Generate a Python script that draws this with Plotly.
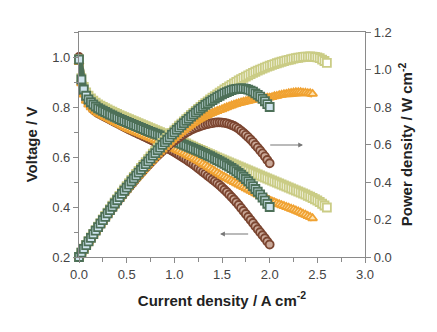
import numpy as np
import plotly.graph_objects as go

# Current density steps (A cm^-2) for each cell
step = 0.025
current_brown = np.round(np.arange(0, 81) * step, 3)
current_orange = np.round(np.arange(0, 99) * step, 3)
current_yellow = np.round(np.arange(0, 105) * step, 3)
current_green = np.round(np.arange(0, 81) * step, 3)

# Cell voltage (V)
voltage_brown = [
    1.00, 0.90, 0.855, 0.83, 0.815, 0.802, 0.79, 0.782, 0.775, 0.77,
    0.765, 0.76, 0.755, 0.75, 0.745, 0.74, 0.735, 0.73, 0.725, 0.72,
    0.715, 0.71, 0.706, 0.701, 0.697, 0.692, 0.688, 0.683, 0.679, 0.674,
    0.67, 0.665, 0.661, 0.656, 0.651, 0.646, 0.641, 0.636, 0.631, 0.626,
    0.62, 0.614, 0.608, 0.602, 0.596, 0.59, 0.583, 0.577, 0.57, 0.563,
    0.555, 0.548, 0.54, 0.533, 0.525, 0.518, 0.51, 0.503, 0.495, 0.487,
    0.478, 0.469, 0.46, 0.45, 0.44, 0.43, 0.419, 0.408, 0.396, 0.384,
    0.372, 0.36, 0.348, 0.336, 0.323, 0.311, 0.299, 0.287, 0.275, 0.262,
    0.25]
voltage_orange = [
    0.98, 0.895, 0.85, 0.825, 0.81, 0.799, 0.79, 0.782, 0.775, 0.77,
    0.765, 0.76, 0.755, 0.75, 0.745, 0.74, 0.735, 0.73, 0.725, 0.72,
    0.715, 0.711, 0.707, 0.703, 0.699, 0.695, 0.691, 0.687, 0.683, 0.679,
    0.675, 0.671, 0.667, 0.663, 0.659, 0.655, 0.651, 0.647, 0.643, 0.639,
    0.635, 0.63, 0.625, 0.62, 0.615, 0.61, 0.605, 0.60, 0.595, 0.59,
    0.585, 0.579, 0.573, 0.567, 0.561, 0.555, 0.549, 0.543, 0.537, 0.531,
    0.525, 0.52, 0.515, 0.51, 0.505, 0.50, 0.495, 0.49, 0.485, 0.48,
    0.475, 0.47, 0.465, 0.46, 0.455, 0.45, 0.445, 0.44, 0.435, 0.43,
    0.425, 0.421, 0.418, 0.414, 0.411, 0.407, 0.404, 0.40, 0.397, 0.393,
    0.39, 0.386, 0.382, 0.378, 0.373, 0.369, 0.364, 0.36, 0.355]
voltage_yellow = [
    0.99, 0.915, 0.88, 0.858, 0.845, 0.834, 0.825, 0.817, 0.81, 0.805,
    0.80, 0.795, 0.79, 0.785, 0.781, 0.776, 0.772, 0.767, 0.763, 0.759,
    0.755, 0.751, 0.747, 0.743, 0.739, 0.735, 0.731, 0.727, 0.723, 0.719,
    0.715, 0.711, 0.707, 0.703, 0.699, 0.695, 0.691, 0.687, 0.683, 0.679,
    0.675, 0.671, 0.667, 0.662, 0.658, 0.654, 0.649, 0.645, 0.641, 0.636,
    0.632, 0.628, 0.624, 0.619, 0.615, 0.611, 0.607, 0.602, 0.598, 0.594,
    0.59, 0.586, 0.582, 0.578, 0.574, 0.57, 0.566, 0.562, 0.558, 0.554,
    0.55, 0.546, 0.542, 0.538, 0.534, 0.53, 0.526, 0.522, 0.518, 0.514,
    0.51, 0.506, 0.502, 0.498, 0.494, 0.49, 0.486, 0.482, 0.478, 0.474,
    0.47, 0.466, 0.462, 0.458, 0.454, 0.45, 0.445, 0.441, 0.436, 0.431,
    0.426, 0.42, 0.413, 0.406, 0.398]
voltage_green = [
    0.99, 0.91, 0.87, 0.845, 0.83, 0.819, 0.81, 0.802, 0.795, 0.79,
    0.785, 0.78, 0.775, 0.77, 0.766, 0.761, 0.757, 0.752, 0.748, 0.744,
    0.74, 0.736, 0.732, 0.728, 0.724, 0.72, 0.716, 0.712, 0.708, 0.704,
    0.70, 0.697, 0.693, 0.69, 0.686, 0.683, 0.679, 0.676, 0.672, 0.669,
    0.665, 0.661, 0.657, 0.653, 0.649, 0.645, 0.641, 0.637, 0.633, 0.629,
    0.625, 0.621, 0.616, 0.612, 0.607, 0.603, 0.598, 0.593, 0.588, 0.583,
    0.578, 0.573, 0.567, 0.562, 0.556, 0.55, 0.543, 0.536, 0.529, 0.521,
    0.512, 0.503, 0.493, 0.483, 0.472, 0.461, 0.45, 0.438, 0.426, 0.413,
    0.40]

x_ticks = [0.0, 0.5, 1.0, 1.5, 2.0, 2.5, 3.0]
v_ticks = [0.2, 0.4, 0.6, 0.8, 1.0]
p_ticks = [0.0, 0.2, 0.4, 0.6, 0.8, 1.0, 1.2]

cells = [
    # (current, voltage, edge colour, fill colour, symbol)
    (current_brown, voltage_brown, "#7b4530", "#c9a898", "circle"),
    (current_yellow, voltage_yellow, "#cacc85", "#ffffff", "square"),
    (current_orange, voltage_orange, "#f0a232", "#fde2b0", "triangle-up"),
    (current_green, voltage_green, "#4d7058", "#cfe4ee", "square"),
]

fig = go.Figure()
for cur, volt, edge, fill, sym in cells:
    cur = np.asarray(cur)
    volt = np.asarray(volt)
    power = cur * volt  # power density = current density x voltage
    for yvals, axis in ((volt, "y"), (power, "y2")):
        # solid band along the data, then the hollow markers on top
        fig.add_trace(go.Scatter(x=cur, y=yvals, mode="lines",
                                 line=dict(color=edge, width=7),
                                 showlegend=False, yaxis=axis, hoverinfo="skip",
                                 cliponaxis=False))
        fig.add_trace(go.Scatter(x=cur, y=yvals, mode="markers",
                                 marker=dict(symbol=sym, size=8, color=fill,
                                             line=dict(color=edge, width=1.8)),
                                 showlegend=False, yaxis=axis, cliponaxis=False))

axis_grey = "#8a8a8a"
tick_font = dict(family="Liberation Sans, Arial, sans-serif", size=13, color="#444444")
title_font = dict(family="Liberation Sans, Arial, sans-serif", size=15, color="#222222")

fig.update_layout(
    width=437, height=332,
    margin=dict(l=79, r=72, t=32, b=75),
    paper_bgcolor="white", plot_bgcolor="white",
    xaxis=dict(
        range=[0, 3], tickvals=x_ticks, ticktext=[f"{v:.1f}" for v in x_ticks],
        showline=True, linecolor=axis_grey, linewidth=1.3, mirror=True,
        ticks="outside", ticklen=5, tickcolor=axis_grey, showgrid=False, zeroline=False,
        minor=dict(dtick=0.25, ticks="outside", ticklen=4, tickcolor=axis_grey),
        tickfont=tick_font,
        title=dict(text="<b>Current density / A cm<sup>-2</sup></b>", font=title_font, standoff=14),
    ),
    yaxis=dict(
        range=[0.2, 1.1], tickvals=v_ticks, ticktext=[f"{v:.1f}" for v in v_ticks],
        showline=True, linecolor=axis_grey, linewidth=1.3,
        ticks="outside", ticklen=5, tickcolor=axis_grey, showgrid=False, zeroline=False,
        minor=dict(tick0=0.2, dtick=0.1, ticks="outside", ticklen=4, tickcolor=axis_grey),
        tickfont=tick_font,
        title=dict(text="<b>Voltage / V</b>", font=title_font, standoff=10),
    ),
    yaxis2=dict(
        range=[0, 1.2], tickvals=p_ticks, ticktext=[f"{v:.1f}" for v in p_ticks],
        overlaying="y", side="right",
        showline=True, linecolor=axis_grey, linewidth=1.3,
        ticks="outside", ticklen=5, tickcolor=axis_grey, showgrid=False, zeroline=False,
        tickfont=tick_font,
        title=dict(text="<b>Power density / W cm<sup>-2</sup></b>", font=title_font, standoff=10),
    ),
)

# Arrows pointing each family of curves to its axis
arrow = dict(showarrow=True, arrowhead=2, arrowsize=0.8, arrowwidth=1.2,
             arrowcolor="#777777", text="", xref="x", yref="y", axref="x", ayref="y")
fig.add_annotation(x=1.48, y=0.292, ax=1.79, ay=0.292, **arrow)
fig.add_annotation(x=2.35, y=0.648, ax=1.99, ay=0.648, **arrow)

fig.write_html("out.html")
